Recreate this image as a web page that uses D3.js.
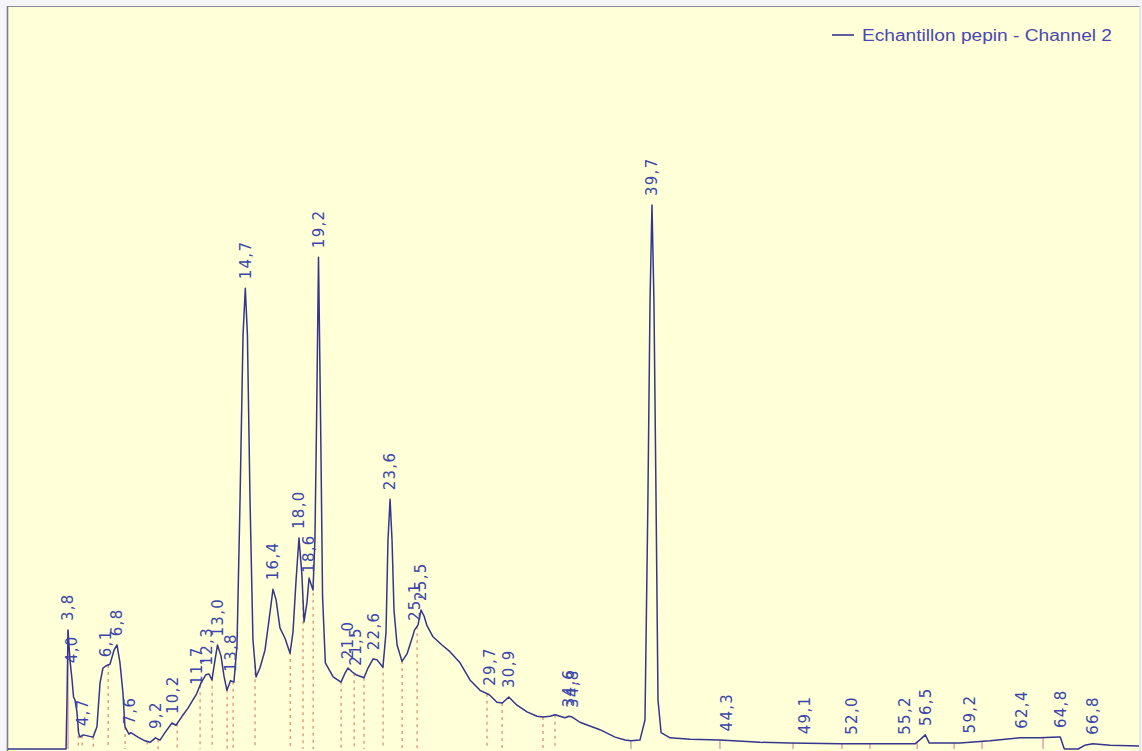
<!DOCTYPE html>
<html>
<head>
<meta charset="utf-8">
<script src="https://cdn.jsdelivr.net/npm/d3@7"></script>
<style>
  html, body { margin: 0; padding: 0; background: #f4f4f9; }
  svg { display: block; }
</style>
</head>
<body>
<svg id="chart" width="1142" height="751"></svg>
<script>
// Chromatogram trace: retention time (min) and detector signal
const times = [
  0, 3.68, 3.74, 3.80, 3.92, 4.05, 4.14, 4.23, 4.35, 4.45, 4.54, 4.73, 5.34, 5.58, 5.77, 5.95,
  6.14, 6.38, 6.63, 6.81, 6.99, 7.18, 7.30, 7.55, 7.67, 8.10, 8.53, 8.84, 9.18, 9.46, 9.76,
  10.19, 10.44, 10.81, 11.18, 11.48, 11.70, 11.98, 12.28, 12.47, 12.65, 12.84, 12.99, 13.21,
  13.39, 13.57, 13.79, 14.00, 14.19, 14.37, 14.56, 14.70, 14.83, 14.99, 15.17, 15.36, 15.60,
  15.91, 16.22, 16.40, 16.59, 16.83, 17.14, 17.45, 17.63, 17.82, 18.00, 18.18, 18.31, 18.49,
  18.62, 18.86, 18.98, 19.08, 19.20, 19.33, 19.45, 19.62, 20.10, 20.58, 20.83, 21.01, 21.26,
  21.50, 21.75, 22.00, 22.24, 22.55, 22.80, 23.16, 23.35, 23.47, 23.60, 23.72, 23.84, 24.03,
  24.33, 24.64, 25.01, 25.10, 25.32, 25.50, 25.69, 25.87, 26.24, 26.79, 27.28, 27.90, 28.51,
  29.13, 29.70, 30.17, 30.50, 30.90, 31.40, 32.02, 32.63, 33.00, 33.43, 33.74, 34.35, 34.60,
  34.80, 35.27, 36.50, 37.43, 38.04, 38.41, 38.96, 39.27, 39.45, 39.58, 39.70, 39.82, 39.95,
  40.07, 40.26, 40.81, 42.04, 43.88, 46.34, 48.18, 51.26, 53.72, 55.87, 56.20, 56.50, 56.75,
  58.64, 60.48, 62.32, 63.55, 64.66, 64.80, 65.03, 65.10, 65.90, 66.30, 66.80, 67.86, 70.00
];
const signal = [
  0, 0, 6.6, 16.0, 12.0, 9.3, 7.0, 6.6, 5.0, 2.2, 1.6, 1.9, 1.6, 3.0, 8.9, 10.9,
  11.2, 11.4, 13.3, 14.0, 11.7, 7.5, 3.0, 2.0, 2.2, 1.6, 1.1, 0.9, 1.5, 1.2, 2.2,
  3.5, 3.2, 4.4, 5.5, 6.6, 7.4, 8.9, 10.0, 10.1, 9.3, 12.0, 14.0, 12.5,
  9.8, 7.9, 9.2, 9.0, 14.0, 32.8, 55.7, 62.0, 55.7, 33.5, 14.7, 9.7, 10.9,
  13.3, 18.4, 21.5, 20.1, 16.3, 14.9, 12.9, 15.7, 22.7, 28.4, 23.4, 17.1, 19.7,
  23.0, 21.4, 28.1, 44.0, 66.2, 44.0, 20.5, 11.6, 9.7, 9.0, 10.2, 10.9, 10.4,
  10.0, 9.8, 9.6, 10.9, 12.1, 12.0, 11.0, 15.7, 28.1, 33.6, 28.1, 18.7, 14.0,
  11.8, 12.8, 15.3, 16.0, 16.7, 18.7, 17.9, 16.6, 15.1, 14.0, 13.1, 11.6, 9.3,
  7.9, 7.3, 6.3, 6.2, 7.0, 5.9, 5.0, 4.4, 4.3, 4.4, 4.6, 4.2, 4.4,
  4.3, 3.6, 2.6, 1.6, 1.2, 1.1, 1.2, 3.9, 33.5, 60.4, 73.2, 60.4, 33.5,
  6.6, 2.2, 1.5, 1.3, 1.2, 0.9, 0.8, 0.7, 0.7, 0.7, 1.3, 1.9, 0.8,
  0.8, 1.1, 1.5, 1.5, 1.6, 1.6, 0.1, 0, 0, 0.5, 0.7, 0.5, 0.4
];

// Detected peaks (retention times)
const peakTimes = [
  3.8, 4.0, 4.7, 6.1, 6.8, 7.6, 9.2, 10.2, 11.7, 12.3, 13.0, 13.8, 14.7, 16.4, 18.0, 18.6,
  19.2, 21.0, 21.5, 22.6, 23.6, 25.1, 25.5, 29.7, 30.9, 34.6, 34.8, 39.7, 44.3, 49.1, 52.0,
  55.2, 56.5, 59.2, 62.4, 64.8, 66.8
];

// Integration limits: dashed drop lines and short baseline marks
const dropLines = [
  4.43, 4.67, 5.35, 6.27, 7.31, 8.67, 9.34, 10.51, 11.92, 12.66, 13.58, 13.95, 15.30, 17.46,
  18.25, 18.87, 20.59, 21.39, 22.00, 23.17, 24.34, 25.26, 29.56, 30.49, 33.00, 33.74
];
const baseMarks = [3.8, 43.88, 48.37, 51.38, 53.10, 56.00, 58.27, 59.99, 63.74, 65.70];
const startMark = [38.41];

const legendLabel = "Echantillon pepin -  Channel 2";

const W = 1142, H = 751;
const svg = d3.select("#chart");

const x = d3.scaleLinear().domain([0, 70]).range([6.18, 6.18 + 70 * 16.267]);
const y = d3.scaleLinear().domain([0, 100]).range([749, 6]);

const pts = times.map((t, i) => ({ t, v: signal[i] }));
const bis = d3.bisector(d => d.t).left;
function valueAt(t) {
  const i = bis(pts, t);
  if (i <= 0) return pts[0].v;
  if (i >= pts.length) return pts[pts.length - 1].v;
  const a = pts[i - 1], b = pts[i];
  return a.v + (b.v - a.v) * (t - a.t) / (b.t - a.t);
}

// Outer frame and plot background
svg.append("rect").attr("width", W).attr("height", H).attr("fill", "#f4f4f9");
svg.append("rect").attr("x", 7).attr("y", 6).attr("width", 1133).attr("height", H - 6)
  .attr("fill", "#ffffd8");
svg.append("line").attr("x1", 7).attr("x2", 1140).attr("y1", 6.5).attr("y2", 6.5)
  .attr("stroke", "#8c8c98").attr("stroke-width", 1.2);
svg.append("line").attr("x1", 7.5).attr("x2", 7.5).attr("y1", 6).attr("y2", H)
  .attr("stroke", "#7c7c88").attr("stroke-width", 1.6);
svg.append("line").attr("x1", 1140).attr("x2", 1140).attr("y1", 6).attr("y2", H)
  .attr("stroke", "#d6d6dc").attr("stroke-width", 1);

svg.append("clipPath").attr("id", "plotClip")
  .append("rect").attr("x", 8).attr("y", 7).attr("width", 1131).attr("height", H - 7);

const g = svg.append("g").attr("clip-path", "url(#plotClip)");

// Drop lines from the trace to the baseline
g.selectAll("line.drop").data(dropLines).join("line")
  .attr("class", "drop")
  .attr("x1", d => x(d)).attr("x2", d => x(d))
  .attr("y1", d => y(valueAt(d))).attr("y2", y(0))
  .attr("stroke", "#e5866a").attr("stroke-width", 1.2)
  .attr("stroke-dasharray", "3,4");

g.selectAll("line.mark").data(baseMarks).join("line")
  .attr("class", "mark")
  .attr("x1", d => x(d)).attr("x2", d => x(d))
  .attr("y1", d => y(valueAt(d))).attr("y2", y(0))
  .attr("stroke", "#e07a9a").attr("stroke-width", 1.1);

g.selectAll("line.start").data(startMark).join("line")
  .attr("class", "start")
  .attr("x1", d => x(d)).attr("x2", d => x(d))
  .attr("y1", d => y(valueAt(d))).attr("y2", y(0))
  .attr("stroke", "#9a9aa6").attr("stroke-width", 1.1);

// Trace
const line = d3.line().x(d => x(d.t)).y(d => y(d.v));
g.append("path").datum(pts)
  .attr("d", line)
  .attr("fill", "none")
  .attr("stroke", "#33368c")
  .attr("stroke-width", 1.5)
  .attr("stroke-linejoin", "round");

// Peak labels
const fmt = d => d3.format(".1f")(d).replace(".", ",");
svg.append("g").selectAll("text").data(peakTimes).join("text")
  .attr("transform", d => `translate(${x(d)},${y(valueAt(d)) - 9}) rotate(-90)`)
  .attr("dy", "0.36em")
  .attr("text-anchor", "start")
  .attr("font-family", "DejaVu Sans, Verdana, sans-serif")
  .attr("font-size", 15)
  .attr("letter-spacing", 1.3)
  .attr("fill", "#3a46aa")
  .text(fmt);

// Legend
const lg = svg.append("g");
lg.append("line").attr("x1", 832).attr("x2", 854).attr("y1", 35).attr("y2", 35)
  .attr("stroke", "#33368c").attr("stroke-width", 1.6);
lg.append("text").attr("x", 862).attr("y", 41)
  .attr("font-family", "Liberation Sans, Arial, sans-serif")
  .attr("font-size", 16)
  .attr("fill", "#4a48b0")
  .attr("textLength", 250).attr("lengthAdjust", "spacingAndGlyphs")
  .text(legendLabel);
</script>
</body>
</html>
